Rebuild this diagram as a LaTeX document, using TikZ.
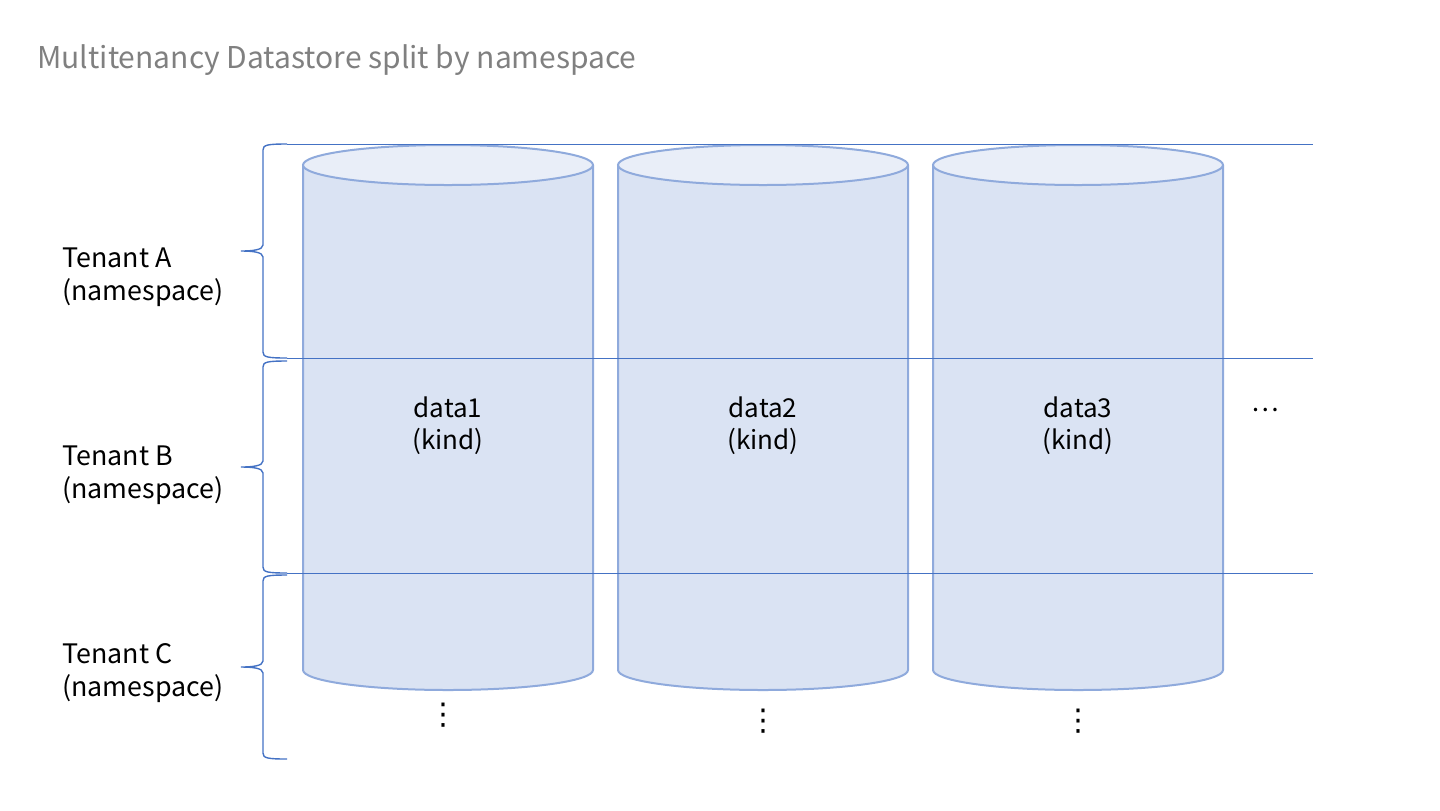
\documentclass[tikz,border=0pt]{standalone}
\usepackage{fontspec}
\setmainfont{Noto Sans CJK JP}
\newfontfamily\symfont{DejaVu Sans}
\usetikzlibrary{positioning}
\definecolor{lineblue}{HTML}{4472C4}
\definecolor{cylborder}{HTML}{8FAADC}
\definecolor{cylbody}{HTML}{DAE3F3}
\definecolor{cyltop}{HTML}{E9EEF8}
\definecolor{titlegray}{HTML}{808080}
\tikzset{
  title/.style={anchor=west, text=titlegray, font=\fontsize{15}{18}\selectfont, inner sep=0pt},
  tenant/.style={anchor=west, align=left, font=\fontsize{13.4}{16.5}\selectfont, inner sep=0pt},
  kind/.style={align=center, font=\fontsize{13}{16}\selectfont, inner sep=0pt},
  vdot/.style={font=\symfont\fontsize{15}{18}\selectfont, inner sep=0pt},
  cylbox/.style={draw=cylborder, line width=1pt, fill=cylbody},
  cyllid/.style={draw=cylborder, line width=1pt, fill=cyltop},
  divider/.style={draw=lineblue, line width=0.5pt},
  tbrace/.style={draw=lineblue, line width=0.7pt}
}

\begin{document}
\begin{tikzpicture}[x=0.5pt, y=-0.5pt]
  \useasboundingbox (0,0) rectangle (1440,810);

  \node[title] (head) at (37,60) {Multitenancy Datastore split by namespace};

  \foreach \cx/\name in {448/data1, 763/data2, 1078/data3} {
    \draw[cylbox] (\cx-145,165) -- (\cx-145,670)
      arc[start angle=180, end angle=0, x radius=145, y radius=20] -- (\cx+145,165);
    \draw[cyllid] (\cx,165) ellipse[x radius=145, y radius=20];
    \node[kind] (\name) at (\cx,426) {\name\\(kind)};
  }

  \foreach \yy in {144,358,573}
    \draw[divider] (287,\yy) -- (1313,\yy);

  \foreach \t/\m/\b in {144/251/358, 361/467/573, 575/667/759}
    \draw[tbrace] (287,\t) .. controls (267,\t) and (263,\t+1) .. (263,\t+6)
      -- (263,\m-6) .. controls (263,\m-1) and (252,\m) .. (241,\m)
      .. controls (252,\m) and (263,\m+1) .. (263,\m+6)
      -- (263,\b-6) .. controls (263,\b-1) and (267,\b) .. (287,\b);

  \node[tenant] (tenanta) at (62,277) {Tenant A\\(namespace)};
  \node[tenant] (tenantb) at (62,475) {Tenant B\\(namespace)};
  \node[tenant] (tenantc) at (62,673) {Tenant C\\(namespace)};

  \node[kind] (moredata) at (1265,410) {…};
  \node[vdot] (more1) at (443,715) {⋮};
  \node[vdot] (more2) at (763,721) {⋮};
  \node[vdot] (more3) at (1078,721) {⋮};
\end{tikzpicture}
\end{document}
